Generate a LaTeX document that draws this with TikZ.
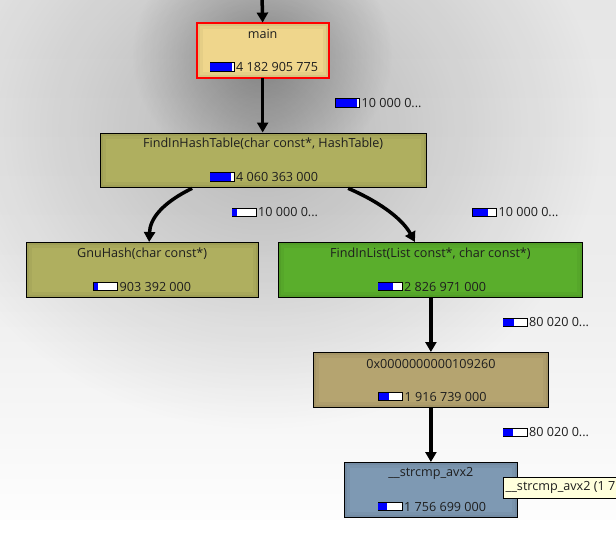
\documentclass[tikz,border=0pt]{standalone}
\usepackage{fontspec}
\setmainfont{Open Sans}
\usetikzlibrary{arrows.meta,fadings}
\definecolor{cmain}{HTML}{EFD68C}
\definecolor{colive}{HTML}{AFAF5F}
\definecolor{cgreen}{HTML}{5AAE2C}
\definecolor{ctan}{HTML}{B5A470}
\definecolor{cblue}{HTML}{7E99B3}
\definecolor{ctip}{HTML}{FFFFDC}
\definecolor{ctext}{HTML}{1E1E1E}
\definecolor{bgtop}{HTML}{E6E6E6}
\definecolor{bgmid}{HTML}{EDEDED}
\tikzfading[name=glow, inner color=transparent!0, outer color=transparent!100]
\tikzset{
  fnbox/.style={draw=black, line width=1.3pt, anchor=north west, inner sep=0pt, fill=#1!91!black,
    path picture={
      \fill[#1!96!black] ([shift={(2.5pt,-2.5pt)}]path picture bounding box.north west) rectangle ([shift={(-2.5pt,2.5pt)}]path picture bounding box.south east);
      \fill[#1] ([shift={(5.5pt,-5.5pt)}]path picture bounding box.north west) rectangle ([shift={(-5.5pt,5.5pt)}]path picture bounding box.south east);
    }},
  titletext/.style={font=\fontsize{12.6}{14}\selectfont, text=ctext, inner sep=0pt},
  numtext/.style={font=\fontsize{12.6}{14}\selectfont, text=ctext, inner sep=0pt, anchor=west},
  barbox/.style={draw=black, fill=white, line width=0.9pt, minimum width=24pt, minimum height=8.5pt, inner sep=0pt, anchor=west},
  edge/.style={line width=3.5pt, -{Triangle[width=11pt,length=10pt]}},
}
\newcommand\costbar[5]{%
  \node[barbox] (#1) at (#2,#3) {};
  \fill[blue] ({#2+0.6},{#3-3.8}) rectangle ({#2+0.6+22.8*#4},{#3+3.8});
  \node[numtext] (#1t) at ({#2+26.5},#3) {#5};
}
\begin{document}
\begin{tikzpicture}[x=1pt,y=-1pt]
\useasboundingbox (0,0) rectangle (616,547);
% background
\shade[top color=bgtop, bottom color=white, middle color=bgmid] (0,0) rectangle (616,547);
\fill[white] (0,520) rectangle (616,547);
\fill[black, opacity=0.22, path fading=glow] (262,130) ellipse [x radius=340, y radius=300];
\fill[black, opacity=0.33, path fading=glow] (262,55) ellipse [x radius=130, y radius=120];
% nodes
\node[fnbox=cmain, draw=red, minimum width=131pt, minimum height=54.5pt] (main) at (196.5,22.6) {};
\draw[red, line width=1.5pt] (main.north west) rectangle (main.south east);
\node[fnbox=colive, minimum width=326pt, minimum height=54.5pt] (fiht) at (99.5,132.5) {};
\node[fnbox=colive, minimum width=232pt, minimum height=55pt] (gnu) at (25.5,242) {};
\node[fnbox=cgreen, minimum width=303.5pt, minimum height=55pt] (fil) at (278,242) {};
\node[fnbox=ctan, minimum width=235.5pt, minimum height=55pt] (ox) at (312.5,352) {};
\node[fnbox=cblue, minimum width=172.5pt, minimum height=54.5pt] (strc) at (344,462) {};
% titles
\node[titletext] (mainT) at ([yshift=-11.5pt]main.north) {main};
\node[titletext] (fihtT) at ([yshift=-11pt]fiht.north) {FindInHashTable(char const*, HashTable)};
\node[titletext] (gnuT) at ([yshift=-11.5pt]gnu.north) {GnuHash(char const*)};
\node[titletext] (filT) at ([yshift=-11.5pt]fil.north) {FindInList(List const*, char const*)};
\node[titletext] (oxT) at ([yshift=-11.5pt]ox.north) {0x0000000000109260};
\node[titletext] (strcT) at ([yshift=-11.5pt]strc.north) {\_\_strcmp\_avx2};
% node cost bars
\costbar{bm}{209.5}{67}{0.96}{4 182 905 775}
\costbar{bf}{209.5}{176.8}{0.93}{4 060 363 000}
\costbar{bg}{93}{286.5}{0.2}{903 392 000}
\costbar{bl}{377.5}{286.5}{0.66}{2 826 971 000}
\costbar{bo}{378}{396.5}{0.46}{1 916 739 000}
\costbar{bs}{377.5}{506.5}{0.4}{1 756 699 000}
% edge cost labels
\costbar{e1}{335}{103}{0.96}{10 000 0...}
\costbar{e2}{231.5}{212.5}{0.2}{10 000 0...}
\costbar{e3}{472}{212.5}{0.68}{10 000 0...}
\costbar{e4}{502.5}{322.5}{0.46}{80 020 0...}
\costbar{e5}{502.5}{432.5}{0.42}{80 020 0...}
% connectors
\coordinate (topin) at (262,-5);
\draw[edge] (topin) -- (main.north);
\draw[edge] (main.south) -- (main.south |- fiht.north);
\draw[edge] ([xshift=-71pt]fiht.south) .. controls (160,204) and (150,220) .. ([xshift=7pt]gnu.north);
\draw[edge] ([xshift=85pt]fiht.south) .. controls (382,203) and (403,220) .. ([xshift=-15.5pt]fil.north);
\draw[edge] ([xshift=0.5pt]fil.south) -- ([xshift=0.5pt]fil.south |- ox.north);
\draw[edge] ([xshift=0.5pt]fil.south |- ox.south) -- ([xshift=0.5pt]fil.south |- strc.north);
% tooltip
\node[draw=black, fill=ctip, line width=0.8pt, minimum width=120pt, minimum height=21pt, anchor=north west, inner sep=0pt] (tip) at (503,476.8) {};
\node[numtext] (tipT) at (505.5,487.3) {\_\_strcmp\_avx2 (1 7};
\end{tikzpicture}
\end{document}
